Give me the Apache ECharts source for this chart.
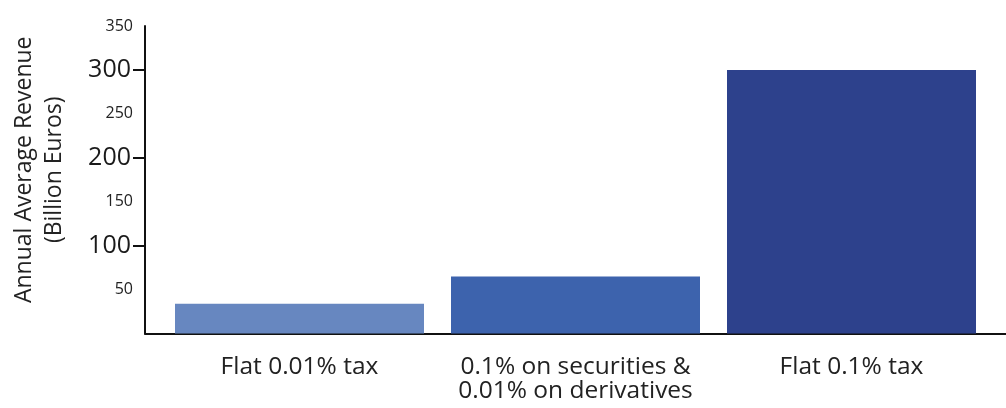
<!DOCTYPE html>
<html>
<head>
<meta charset="utf-8">
<script src="https://cdn.jsdelivr.net/npm/echarts@6/dist/echarts.min.js"></script>
<style>
html,body{margin:0;padding:0;background:#fff;}
#chart{width:1006px;height:408px;}
</style>
</head>
<body>
<div id="chart"></div>
<script>
const categories = ['Flat 0.01% tax', '0.1% on securities &\n0.01% on derivatives', 'Flat 0.1% tax'];
const revenue = [34, 65, 300];
const barColors = ['#6787C0', '#3D63AD', '#2D418C'];
const labelValues = [50, 100, 150, 200, 250, 300, 350];
const majorTicks = [100, 200, 300];
const yName = 'Annual Average Revenue\n(Billion Euros)';

const FONT = '"Open Sans", "Noto Sans", sans-serif';
const chart = echarts.init(document.getElementById('chart'), null, {renderer: 'canvas'});
chart.setOption({
  backgroundColor: '#fff',
  animation: false,
  grid: [
    {left: 161.5, right: 16.5, top: 26, bottom: 74.5, containLabel: false, outerBoundsMode: 'none'},
    {left: 145, right: 0, top: 26, bottom: 74.5, containLabel: false, outerBoundsMode: 'none'}
  ],
  xAxis: [
    {
      type: 'category', gridIndex: 0, data: categories,
      axisLine: {show: false}, axisTick: {show: false},
      axisLabel: {interval: 0, hideOverlap: false, color: '#222', fontFamily: FONT, fontSize: 24.5, lineHeight: 24, margin: 22}
    },
    {
      type: 'value', gridIndex: 1, min: 0, max: 1,
      axisLine: {show: true, lineStyle: {color: '#111', width: 2}},
      axisTick: {show: false}, axisLabel: {show: false}, splitLine: {show: false}
    }
  ],
  yAxis: [
    {type: 'value', gridIndex: 0, min: 0, max: 350, interval: 50, show: false},
    {
      type: 'value', gridIndex: 1, min: 0, max: 350, interval: 50,
      name: yName, nameLocation: 'middle', nameGap: 76,
      nameTextStyle: {color: '#222', fontFamily: FONT, fontSize: 23, lineHeight: 30, padding: [0, 0, 0, 20]},
      axisLine: {show: true, lineStyle: {color: '#111', width: 2}},
      axisTick: {show: true, length: 12, customValues: majorTicks, lineStyle: {color: '#111', width: 2}},
      axisLabel: {
        margin: 12,
        customValues: labelValues,
        formatter: function (v) {
          return majorTicks.indexOf(v) >= 0 ? '{big|' + v + '}' : '{small|' + v + '}';
        },
        rich: {
          big: {fontSize: 25, color: '#1a1a1a', fontFamily: FONT, padding: [0, 2, 0, 0]},
          small: {fontSize: 16, color: '#222', fontFamily: FONT}
        }
      },
      splitLine: {show: false}
    }
  ],
  series: [{
    type: 'bar', xAxisIndex: 0, yAxisIndex: 0,
    barWidth: 249,
    data: revenue.map((v, i) => ({value: v, itemStyle: {color: barColors[i]}})),
    z: 5
  }]
});
</script>
</body>
</html>
